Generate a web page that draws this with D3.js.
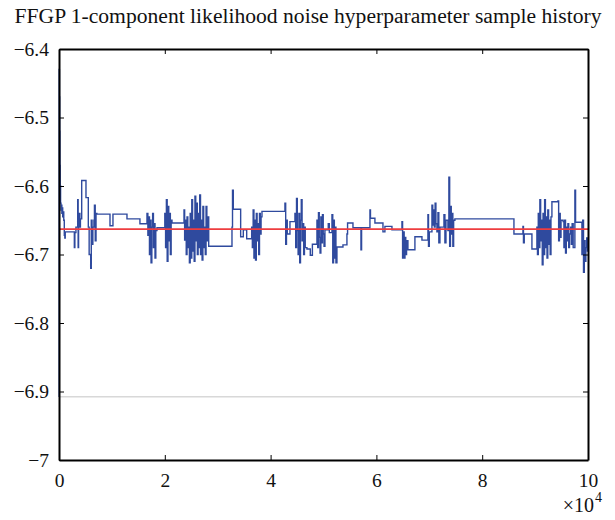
<!DOCTYPE html>
<html>
<head>
<meta charset="utf-8">
<script src="https://cdn.jsdelivr.net/npm/d3@7"></script>
<style>
  html, body { margin: 0; padding: 0; background: #fff; }
  svg text { font-family: "Liberation Serif", "Times New Roman", serif; fill: #111; }
</style>
</head>
<body>
<svg id="chart" width="615" height="520"></svg>
<script>
// Sample history of the noise hyperparameter (log scale), as [iteration, value] change points
const traceSteps = [
  [0,-6.908],[30,-6.430],[80,-6.47],[130,-6.52],[180,-6.57],[230,-6.60],[300,-6.625],[380,-6.635],[460,-6.628],
  [540,-6.640],[620,-6.632],[700,-6.645],[800,-6.638],[900,-6.650],[1000,-6.672],[1100,-6.676],[1180,-6.667],
  [2900,-6.690],[3000,-6.668],[3200,-6.660],[3530,-6.620],[3620,-6.690],[3700,-6.650],[3850,-6.640],[3950,-6.660],
  [4050,-6.648],[4290,-6.592],[5100,-6.617],[5540,-6.660],[5700,-6.700],[5990,-6.720],[6100,-6.650],[6250,-6.685],
  [6400,-6.660],[6600,-6.650],[6700,-6.628],[6850,-6.680],[7000,-6.640],[7150,-6.641],[9640,-6.658],[10200,-6.641],
  [12850,-6.648],[15300,-6.655],
  [16630,-6.640],[16800,-6.672],[16950,-6.645],[17100,-6.700],[17250,-6.650],[17400,-6.712],[17550,-6.660],
  [17700,-6.640],[17850,-6.690],[18000,-6.655],[18150,-6.705],[18300,-6.665],[18520,-6.661],
  [20000,-6.640],[20150,-6.690],[20300,-6.620],[20450,-6.710],[20600,-6.630],[20750,-6.680],[20900,-6.640],
  [21050,-6.700],[21200,-6.650],[21360,-6.654],
  [23630,-6.635],[23750,-6.679],[23900,-6.650],[24050,-6.700],[24200,-6.645],[24350,-6.690],[24500,-6.660],
  [24650,-6.712],[24800,-6.640],[24950,-6.705],[25100,-6.620],[25250,-6.695],[25400,-6.650],[25550,-6.710],
  [25700,-6.615],[25850,-6.680],[26000,-6.625],[26150,-6.700],[26300,-6.640],[26450,-6.690],[26600,-6.613],
  [26750,-6.700],[26900,-6.650],[27050,-6.708],[27200,-6.630],[27350,-6.690],[27500,-6.660],[27650,-6.700],
  [27800,-6.630],[27950,-6.680],[28100,-6.645],[28300,-6.688],
  [32700,-6.660],[32800,-6.606],[32950,-6.634],[34340,-6.674],[34840,-6.664],[35480,-6.677],
  [36420,-6.660],[36550,-6.690],[36700,-6.635],[36850,-6.705],[37000,-6.650],[37150,-6.708],[37300,-6.640],
  [37450,-6.680],[37600,-6.655],[37750,-6.700],[37900,-6.640],[38050,-6.670],[38200,-6.645],[38370,-6.637],
  [42710,-6.625],[42850,-6.685],[43000,-6.650],[43150,-6.670],[43660,-6.652],
  [44600,-6.640],[44750,-6.690],[44900,-6.618],[45050,-6.665],[45200,-6.700],[45350,-6.640],[45500,-6.712],
  [45650,-6.650],[45800,-6.620],[45950,-6.680],[46100,-6.655],[46250,-6.700],[46400,-6.660],[46550,-6.690],
  [46870,-6.692],[47500,-6.701],[47900,-6.685],
  [48760,-6.650],[48900,-6.690],[49050,-6.639],[49200,-6.675],[49350,-6.698],[49500,-6.645],[49650,-6.683],
  [49800,-6.642],[49950,-6.670],[50100,-6.688],[50270,-6.664],[50900,-6.655],[51100,-6.668],[51600,-6.642],
  [51750,-6.712],[51900,-6.650],[52050,-6.705],[52200,-6.660],[52350,-6.712],[52540,-6.689],[53680,-6.686],
  [54430,-6.670],[54550,-6.654],[55570,-6.661],[57080,-6.693],[57200,-6.661],[58780,-6.635],[58880,-6.647],
  [59720,-6.654],[61240,-6.667],[61610,-6.659],[62940,-6.664],[64830,-6.652],[64950,-6.705],[65100,-6.667],
  [65250,-6.705],[65400,-6.675],[65550,-6.700],[65700,-6.680],[65960,-6.693],[67280,-6.674],[68610,-6.679],
  [69740,-6.642],[69850,-6.688],[70000,-6.667],[70500,-6.628],[70650,-6.657],[70800,-6.635],[70950,-6.660],
  [71100,-6.625],[71250,-6.655],[71440,-6.667],[71630,-6.639],[71800,-6.683],[72010,-6.660],[72770,-6.642],
  [72950,-6.683],[73150,-6.650],[73520,-6.665],[73700,-6.587],[73850,-6.688],[74000,-6.630],[74150,-6.670],
  [74300,-6.640],[74450,-6.688],[74600,-6.650],[74840,-6.648],
  [86000,-6.670],[87700,-6.659],[87800,-6.683],[87950,-6.670],[89400,-6.692],
  [90340,-6.660],[90450,-6.700],[90600,-6.640],[90750,-6.690],[90900,-6.620],[91050,-6.680],[91200,-6.650],
  [91350,-6.715],[91500,-6.640],[91650,-6.700],[91800,-6.620],[91950,-6.690],[92100,-6.645],[92250,-6.705],
  [92400,-6.635],[92550,-6.685],[92700,-6.650],[92850,-6.700],[93000,-6.645],[93180,-6.623],
  [94310,-6.622],[94450,-6.680],[94600,-6.640],[94750,-6.675],[94900,-6.650],[95300,-6.652],[95450,-6.690],
  [95600,-6.650],[95750,-6.698],[95900,-6.660],[96050,-6.680],[96200,-6.655],[96350,-6.690],[96500,-6.670],
  [96700,-6.660],[96850,-6.685],[97000,-6.655],[97200,-6.690],[97520,-6.606],[97650,-6.653],
  [98850,-6.700],[99000,-6.650],[99150,-6.726],[99300,-6.680],[99450,-6.710],[99600,-6.690],[99750,-6.676],
  [99900,-6.695],[100000,-6.695]
];

// Reference levels: posterior mean of the samples and the initial value log(1e-3)
const posteriorMean = -6.663;
const initialValue = Math.log(1e-3);

// Axis ticks
const xTickValues = [0, 20000, 40000, 60000, 80000, 100000];
const yTickValues = [-7, -6.9, -6.8, -6.7, -6.6, -6.5, -6.4];
const xDomain = [0, 100000];
const yDomain = [-7, -6.4];

const titleText = "FFGP 1-component likelihood noise hyperparameter sample history";

const svg = d3.select("#chart");
const plotLeft = 59, plotRight = 588, plotTop = 49, plotBottom = 460;
const labelSize = "19.5px";

const x = d3.scaleLinear().domain(xDomain).range([plotLeft, plotRight]);
const y = d3.scaleLinear().domain(yDomain).range([plotBottom, plotTop]);

// Title, fitted to the width of the header
const title = svg.append("text")
  .attr("x", 308).attr("y", 23)
  .attr("text-anchor", "middle")
  .style("font-size", "18px")
  .text(titleText);
const tw = title.node().getComputedTextLength();
title.style("font-size", (18 * 587 / tw).toFixed(2) + "px");

// Initial value line
svg.append("line")
  .attr("x1", x(xDomain[0])).attr("x2", x(xDomain[1]))
  .attr("y1", y(initialValue)).attr("y2", y(initialValue))
  .attr("stroke", "#d8d8d8").attr("stroke-width", 1.6);

// Sample trace
const line = d3.line()
  .x(d => x(d[0]))
  .y(d => y(d[1]))
  .curve(d3.curveStepAfter);
svg.append("path")
  .datum(traceSteps)
  .attr("d", line)
  .attr("fill", "none")
  .attr("stroke", "#2f4a9e")
  .attr("stroke-width", 1.4)
  .attr("stroke-linejoin", "miter");

// Posterior mean line
svg.append("line")
  .attr("x1", x(xDomain[0])).attr("x2", x(xDomain[1]))
  .attr("y1", y(posteriorMean)).attr("y2", y(posteriorMean))
  .attr("stroke", "#ee3d3f").attr("stroke-width", 1.6);

// Axes with inward ticks, forming the frame
function styleAxis(g) {
  g.select(".domain").attr("stroke", "#000").attr("stroke-width", 2);
  g.selectAll(".tick line").attr("stroke", "#000").attr("stroke-width", 1);
  g.selectAll("text").style("font-size", labelSize).attr("fill", "#111")
    .style("font-family", '"Liberation Serif", "Times New Roman", serif');
}

svg.append("g")
  .attr("transform", `translate(0,${plotBottom})`)
  .call(d3.axisBottom(x).tickValues(xTickValues).tickSizeInner(-5).tickSizeOuter(0).tickPadding(13)
    .tickFormat(d => d3.format("d")(d / 1e4)))
  .call(styleAxis);

svg.append("g")
  .attr("transform", `translate(0,${plotTop})`)
  .call(d3.axisTop(x).tickValues(xTickValues).tickSizeInner(-5).tickSizeOuter(0).tickFormat(""))
  .call(styleAxis);

svg.append("g")
  .attr("transform", `translate(${plotLeft},0)`)
  .call(d3.axisLeft(y).tickValues(yTickValues).tickSizeInner(-5).tickSizeOuter(0).tickPadding(10)
    .tickFormat(d => d3.format(".1f")(d).replace(".0", "").replace("-", "\u2212")))
  .call(styleAxis);

svg.append("g")
  .attr("transform", `translate(${plotRight},0)`)
  .call(d3.axisRight(y).tickValues(yTickValues).tickSizeInner(-5).tickSizeOuter(0).tickFormat(""))
  .call(styleAxis);

// Exponent of the x axis
svg.append("text")
  .attr("x", 594).attr("y", 512)
  .attr("text-anchor", "end")
  .style("font-size", "20px")
  .text("\u00d710");
svg.append("text")
  .attr("x", 595).attr("y", 502)
  .style("font-size", "14px")
  .text("4");
</script>
</body>
</html>
